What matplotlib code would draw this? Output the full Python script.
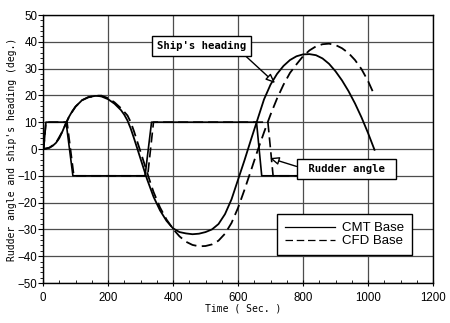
import numpy as np
import matplotlib
matplotlib.use("Agg")
import matplotlib.pyplot as plt
from matplotlib.ticker import MultipleLocator

# ship's heading, CMT base
t_cmt = [0, 10, 20, 30, 40, 50, 60, 70, 80, 90, 100, 120, 140, 160, 170, 180,
         200, 220, 240, 250, 260, 270, 280, 290, 300, 310, 320, 340, 360, 380,
         400, 420, 440, 460, 480, 500, 520, 540, 560, 580, 600, 620, 640, 660,
         680, 700, 720, 740, 760, 780, 800, 820, 840, 860, 880, 900, 920, 940,
         960, 980, 1000, 1020]
head_cmt = [0, 0.1, 0.5, 1.2, 2.3, 4.0, 6.6, 9.5, 12.0, 14.1, 15.8, 18.2, 19.4,
            19.8, 19.8, 19.6, 18.6, 16.9, 14.5, 12.8, 10.6, 7.6, 4.0, 0.2, -3.6,
            -7.4, -11.2, -17.8, -22.9, -26.8, -29.6, -31.0, -31.5, -31.8, -31.6,
            -31.0, -30.0, -28.0, -24.3, -18.8, -11.5, -4.2, 3.5, 11.0, 18.5,
            24.0, 28.0, 31.0, 33.2, 34.6, 35.3, 35.4, 35.0, 33.8, 31.8, 29.0,
            25.6, 21.6, 17.0, 11.8, 6.0, -0.3]

# ship's heading, CFD base
t_cfd = [0, 20, 40, 60, 80, 100, 120, 140, 150, 160, 170, 180, 200, 220, 240,
         260, 270, 280, 290, 300, 310, 320, 330, 340, 360, 380, 400, 420, 440,
         460, 480, 500, 520, 540, 560, 580, 600, 620, 640, 660, 680, 700, 720,
         740, 760, 780, 800, 820, 840, 860, 880, 900, 920, 940, 960, 980, 1000,
         1020]
head_cfd = [0, 0.5, 2.3, 6.6, 12.0, 15.8, 18.2, 19.3, 19.5, 19.7, 19.9, 19.9,
            19.0, 17.4, 15.2, 12.5, 10.0, 6.6, 2.8, -1.0, -4.8, -8.6, -12.4,
            -16.0, -21.8, -26.3, -29.8, -32.6, -34.6, -35.8, -36.3, -36.2,
            -35.6, -34.2, -31.6, -27.6, -22.0, -15.2, -8.0, -0.7, 6.2, 12.8,
            18.8, 24.0, 28.4, 31.6, 34.6, 36.8, 38.3, 39.1, 39.3, 38.8, 37.6,
            35.8, 33.2, 29.8, 25.4, 20.0]

# rudder angle
t_rud_cmt = [0, 2, 9, 71, 92, 314, 334, 657, 673, 1020]
rud_cmt = [0, 0, 10, 10, -10, -10, 10, 10, -10, -10]
t_rud_cfd = [0, 2, 9, 74, 95, 322, 340, 692, 708, 1020]
rud_cfd = [0, 0, 10, 10, -10, -10, 10, 10, -10, -10]

fig = plt.figure(figsize=(4.5, 3.23), dpi=100)
ax = fig.add_axes([43 / 450, 40 / 323, 390 / 450, 268 / 323])

dash = (0, (6, 3))
ax.plot(t_cmt, head_cmt, color='black', lw=1.3, label='CMT Base')
ax.plot(t_cfd, head_cfd, color='black', lw=1.3, ls=dash, label='CFD Base')
ax.plot(t_rud_cmt, rud_cmt, color='black', lw=1.2)
ax.plot(t_rud_cfd, rud_cfd, color='black', lw=1.2, ls=dash)

ax.set_xlim(0, 1200)
ax.set_ylim(-50, 50)
ax.xaxis.set_major_locator(MultipleLocator(200))
ax.xaxis.set_minor_locator(MultipleLocator(50))
ax.yaxis.set_major_locator(MultipleLocator(10))
ax.yaxis.set_minor_locator(MultipleLocator(2))
ax.grid(True, which='major', color='0.3', lw=0.9)
for s in ax.spines.values():
    s.set_linewidth(1.0)

tick_font = ['Liberation Sans', 'DejaVu Sans']
ax.tick_params(axis='x', which='major', direction='inout', length=5, pad=4, labelsize=8.3)
ax.tick_params(axis='x', which='minor', direction='in', length=2.5)
ax.tick_params(axis='y', which='major', direction='out', length=3.5, pad=0.5, labelsize=8.3)
ax.tick_params(axis='y', which='minor', direction='out', length=2)
for lab in ax.get_xticklabels() + ax.get_yticklabels():
    lab.set_fontfamily(tick_font)

mono = ['DejaVu Sans Mono']
ax.set_xlabel('Time ( Sec. )', family=mono, fontsize=7)
ax.set_ylabel("Rudder angle and ship's heading (deg.)", family=mono, fontsize=7)
ax.xaxis.set_label_coords(0.513, -0.075)
ax.yaxis.set_label_coords(-0.066, 0.5)

box = dict(boxstyle='square,pad=0.45', fc='white', ec='black', lw=1.0)
arrow = dict(arrowstyle='-|>,head_length=0.7,head_width=0.3', fc='white',
             ec='black', lw=1.0, shrinkA=0, shrinkB=0)
ax.annotate("Ship's heading", xy=(714, 24.6), xytext=(489, 38.4),
            ha='center', va='center', family=mono, fontsize=7.7, fontweight='bold',
            bbox=box, arrowprops=dict(arrow, relpos=(0.93, 0)))
ax.annotate(" Rudder angle ", xy=(698, -3.4), xytext=(934, -7.5),
            ha='center', va='center', family=mono, fontsize=7.7, fontweight='bold',
            bbox=box, arrowprops=dict(arrow, relpos=(0, 0.6)))

leg = ax.legend(loc='lower right', bbox_to_anchor=(0.946, 0.104),
                handlelength=3.8, handletextpad=0.5,
                borderpad=0.6, labelspacing=0.05, fancybox=False,
                borderaxespad=0,
                prop={'family': ['Liberation Sans'], 'size': 9.5})
leg.get_frame().set_edgecolor('black')
leg.get_frame().set_linewidth(1.0)
leg.get_frame().set_alpha(1)
for h in leg.get_lines():
    h.set_linewidth(0.9)

fig.savefig('out.png', dpi=100)
